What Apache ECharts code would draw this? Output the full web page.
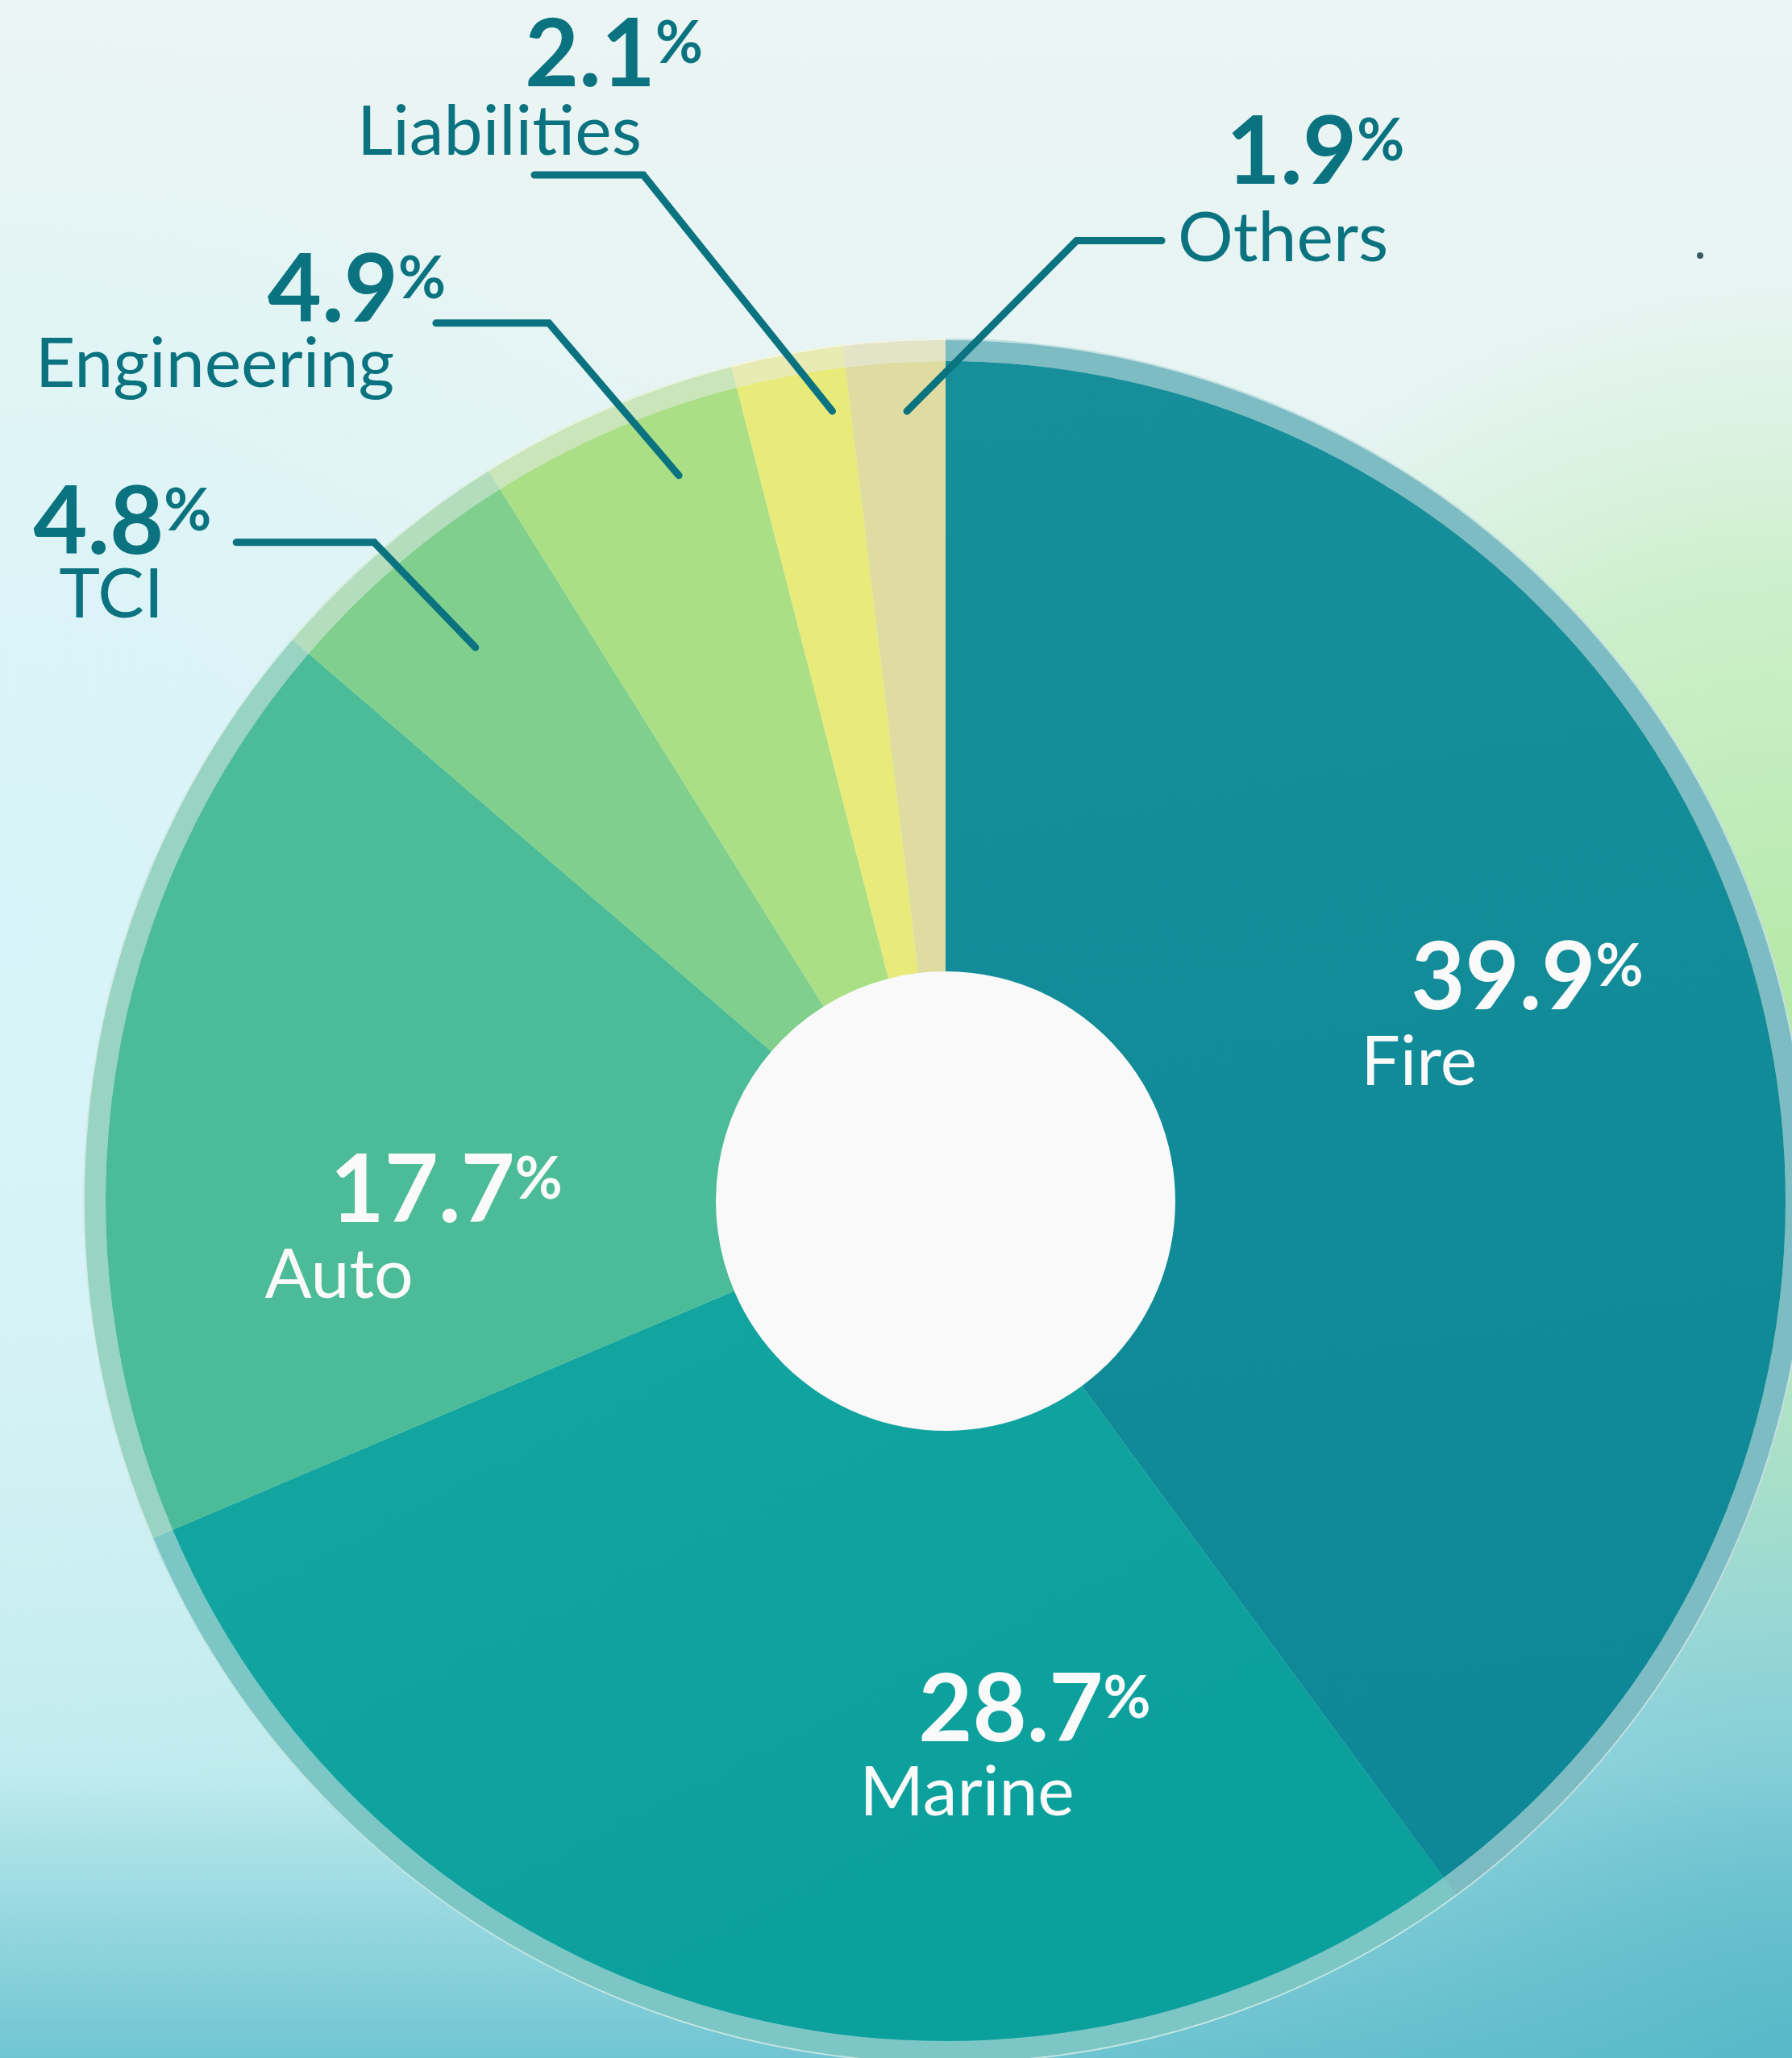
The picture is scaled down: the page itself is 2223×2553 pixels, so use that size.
<!DOCTYPE html>
<html>
<head>
<meta charset="utf-8">
<title>Portfolio mix</title>
<script src="https://cdn.jsdelivr.net/npm/echarts/dist/echarts.min.js"></script>
<style>
    html, body { margin: 0; padding: 0; }
    #main { width: 2223px; height: 2553px; }
</style>
</head>
<body>
<div id="main"></div>
<script>
// data
const categories = ["Fire", "Marine", "Auto", "TCI", "Engineering", "Liabilities", "Others"];
const shares = [39.9, 28.7, 17.7, 4.8, 4.9, 2.1, 1.9];
const insideCount = 3; // first three are labelled on the slice

// styles
const sliceColors = ["#148d99", "#12a39e", "#4bbb98", "#80cf8c", "#abdf86", "#e8ea7a", "#dfdca2"];
const sliceShade = { 0: ["#178f9b", "#0e8896"], 1: ["#15a6a1", "#0ca09c"] }; // slight top-to-bottom shading
const ringTint = "#e6ebeb";
const darkText = "#0b7380";
const CENTER = [1173, 1490];
const R_HOLE = 285, R_OUT = 1042, R_RING = 1070;

// label placement: offset of the block from its anchor, indent of each line
const textPlace = [
    { dx: -118, dy: -108, numIndent: 62, nameIndent: 0, nameLH: 108 },
    { dx: 69, dy: -52, numIndent: 73, nameIndent: 0, nameLH: 104 },
    { dx: -186, dy: 50, numIndent: 81, nameIndent: 0, nameLH: 106 },
    { dx: -252, dy: -73, numIndent: 0, nameIndent: 32, nameLH: 76 },
    { dx: -497, dy: -89, numIndent: 288, nameIndent: 0, nameLH: 80 },
    { dx: -220, dy: -197, numIndent: 208, nameIndent: 0, nameLH: 88 },
    { dx: 20, dy: -158, numIndent: 60, nameIndent: 0, nameLH: 112 },
];
// leader lines: start radius, angle nudge (deg), first leg, flat leg
const leader = {
    3: { r: 901, nudge: 0.34, leg: [-125.6, -130.4], flat: -171 },
    4: { r: 959, nudge: 3.04, leg: [-161.3, -189], flat: -140 },
    5: { r: 990, nudge: 2.46, leg: [-234.5, -293], flat: -135 },
    6: { r: 981, nudge: 0.62, leg: [210.5, -211.7], flat: 105.5 },
};

function mix(c1, c2, t) {
    const a = parseInt(c1.slice(1), 16), b = parseInt(c2.slice(1), 16);
    const ch = (v, s) => (v >> s) & 255;
    const m = (s) => Math.round(ch(a, s) * (1 - t) + ch(b, s) * t);
    return "rgb(" + m(16) + "," + m(8) + "," + m(0) + ")";
}

function sliceFill(i) {
    const sh = sliceShade[i];
    if (!sh) return sliceColors[i];
    return {
        type: "linear", x: 0, y: 0, x2: 0.3, y2: 1,
        colorStops: [{ offset: 0, color: sh[0] }, { offset: 1, color: sh[1] }],
    };
}

function makeLabel(i) {
    const inside = i < insideCount;
    const color = inside ? "#fafafa" : darkText;
    const t = textPlace[i];
    return {
        show: true,
        position: inside ? "inside" : "outside",
        formatter: "{num|" + shares[i].toFixed(1) + "}{pct|%}\n{name|" + categories[i] + "}",
        rich: {
            num: {
                fontFamily: "Lato", fontWeight: "bold", fontSize: 116,
                lineHeight: 100, color: color, padding: [0, 0, 0, t.numIndent],
            },
            pct: {
                fontFamily: "Lato", fontWeight: "bold", fontSize: 72,
                lineHeight: 100, color: color, padding: [0, 0, 30, 0],
            },
            name: {
                fontFamily: "Lato", fontSize: 86,
                lineHeight: t.nameLH, color: color, padding: [0, 0, 0, t.nameIndent],
            },
        },
    };
}

const sliceData = categories.map((name, i) => ({
    name: name,
    value: shares[i],
    itemStyle: { color: sliceFill(i) },
}));
const ringData = categories.map((name, i) => ({
    name: name,
    value: shares[i],
    itemStyle: { color: mix(sliceColors[i], ringTint, 0.5) },
}));
// same slices again, invisible, carrying labels and leader lines above everything
const labelData = categories.map((name, i) => ({
    name: name,
    value: shares[i],
    label: makeLabel(i),
    labelLine: { show: i >= insideCount },
}));

const myChart = echarts.init(document.getElementById("main"), null, {
    renderer: "canvas", width: 2223, height: 2553,
});

const option = {
    animation: false,
    backgroundColor: {
        type: "linear", x: 0, y: 0, x2: 0, y2: 1,
        colorStops: [
            { offset: 0, color: "#ebf5f3" },
            { offset: 0.55, color: "#def3f4" },
            { offset: 0.86, color: "#bfebee" },
            { offset: 1, color: "#70c5d2" },
        ],
    },
    graphic: [
        {
            type: "rect", z: -10, silent: true,
            shape: { x: 0, y: 0, width: 2223, height: 2553 },
            style: {
                fill: {
                    type: "radial", x: 0, y: 0.45, r: 0.5,
                    colorStops: [
                        { offset: 0, color: "rgba(214,244,250,0.9)" },
                        { offset: 1, color: "rgba(214,244,250,0)" },
                    ],
                },
            },
        },
        {
            type: "rect", z: -10, silent: true,
            shape: { x: 0, y: 0, width: 2223, height: 2553 },
            style: {
                fill: {
                    type: "radial", x: 1, y: 0.5, r: 0.42,
                    colorStops: [
                        { offset: 0, color: "rgba(176,232,160,0.95)" },
                        { offset: 0.6, color: "rgba(190,236,178,0.6)" },
                        { offset: 1, color: "rgba(200,238,190,0)" },
                    ],
                },
            },
        },
        {
            type: "rect", z: -10, silent: true,
            shape: { x: 0, y: 0, width: 2223, height: 2553 },
            style: {
                fill: {
                    type: "radial", x: 1, y: 1, r: 0.46,
                    colorStops: [
                        { offset: 0, color: "rgba(84,182,198,0.85)" },
                        { offset: 1, color: "rgba(84,182,198,0)" },
                    ],
                },
            },
        },
        {
            type: "circle", z: -5, silent: true,
            shape: { cx: CENTER[0], cy: CENTER[1], r: R_HOLE },
            style: { fill: "#f9f9f9" },
        },
        {
            type: "circle", z: 5, silent: true,
            shape: { cx: CENTER[0], cy: CENTER[1], r: R_RING - 1 },
            style: { fill: null, stroke: "rgba(255,255,255,0.55)", lineWidth: 2 },
        },
        {
            type: "circle", z: -5, silent: true,
            shape: { cx: 2109, cy: 317, r: 4 },
            style: { fill: "#3d5c60" },
        },
    ],
    series: [
        {
            name: "ring",
            type: "pie",
            z: 1,
            center: CENTER,
            radius: [R_OUT, R_RING],
            startAngle: 90,
            silent: true,
            label: { show: false },
            labelLine: { show: false },
            data: ringData,
        },
        {
            name: "share",
            type: "pie",
            z: 2,
            center: CENTER,
            radius: [R_HOLE, R_OUT],
            startAngle: 90,
            silent: true,
            label: { show: false },
            labelLine: { show: false },
            data: sliceData,
        },
        {
            name: "labels",
            type: "pie",
            z: 10,
            center: CENTER,
            radius: [R_HOLE, R_OUT],
            startAngle: 90,
            avoidLabelOverlap: false,
            silent: true,
            itemStyle: { color: "rgba(0,0,0,0)" },
            labelLine: {
                showAbove: true,
                length: 40, length2: 40,
                lineStyle: { color: darkText, width: 9, cap: "round" },
            },
            labelLayout: function (p) {
                const i = p.dataIndex;
                const t = textPlace[i];
                if (i < insideCount) {
                    const ax = p.labelRect.x + p.labelRect.width / 2;
                    const ay = p.labelRect.y + p.labelRect.height / 2;
                    return { x: ax + t.dx, y: ay + t.dy, align: "left", verticalAlign: "top" };
                }
                const g = leader[i];
                const p0 = p.labelLinePoints[0];
                const a = Math.atan2(p0[1] - CENTER[1], p0[0] - CENTER[0]) + g.nudge * Math.PI / 180;
                const s = [CENTER[0] + g.r * Math.cos(a), CENTER[1] + g.r * Math.sin(a)];
                const b = [s[0] + g.leg[0], s[1] + g.leg[1]];
                const e = [b[0] + g.flat, b[1]];
                return {
                    x: e[0] + t.dx, y: e[1] + t.dy,
                    align: "left", verticalAlign: "top",
                    labelLinePoints: [s, b, e],
                };
            },
            data: labelData,
        },
    ],
};
myChart.setOption(option);
</script>
</body>
</html>
